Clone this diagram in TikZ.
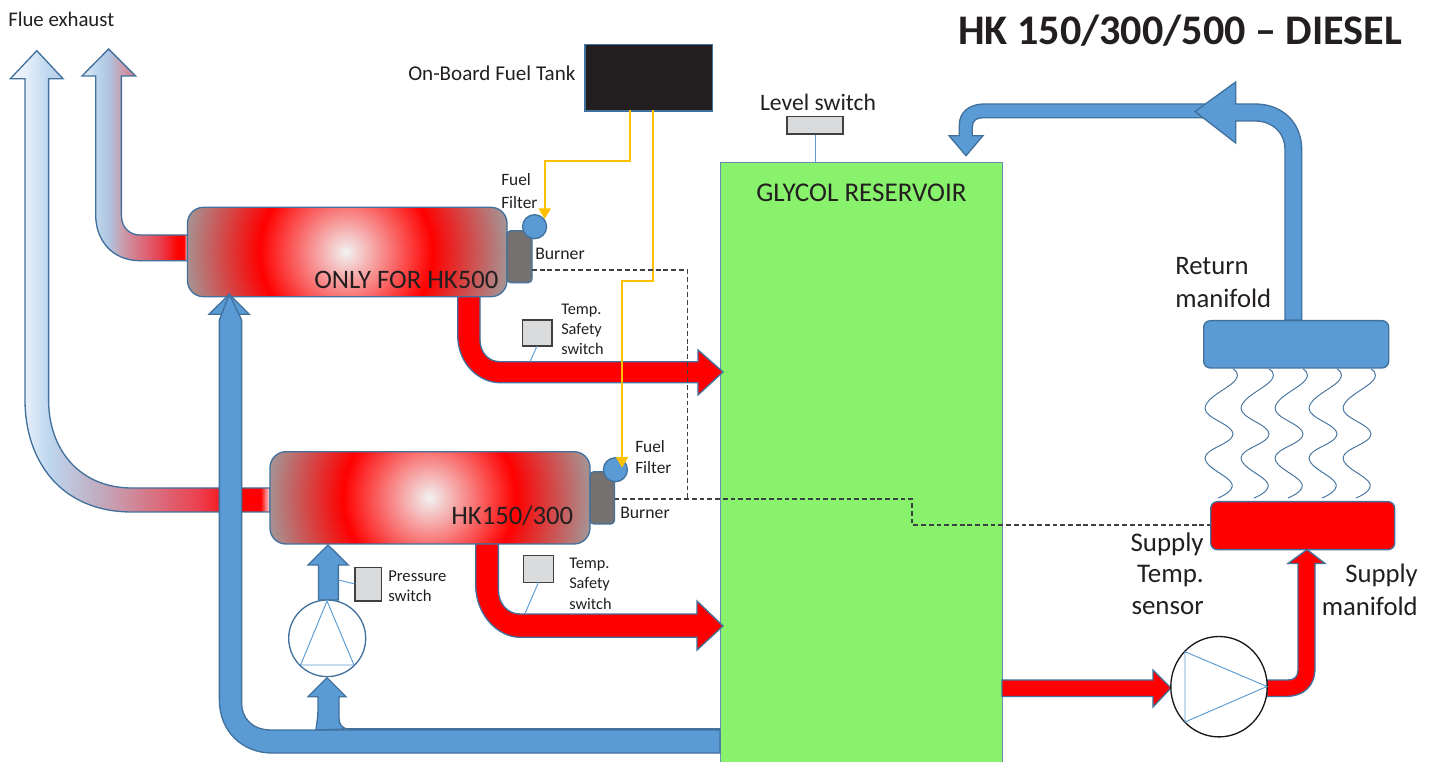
\documentclass[tikz,border=0pt]{standalone}
\usepackage{fontspec}
\setmainfont{Carlito}
\usetikzlibrary{arrows.meta}
\definecolor{pipeblue}{HTML}{5B9BD5}
\definecolor{edgeblue}{HTML}{41719C}
\definecolor{burnergrey}{HTML}{767171}
\definecolor{tankblack}{HTML}{231F20}
\definecolor{fuelyellow}{HTML}{FFC000}
\definecolor{glycol}{HTML}{88F26C}
\definecolor{switchgrey}{HTML}{DADBDC}
\definecolor{inkdark}{HTML}{231F20}
\definecolor{boilergrey}{HTML}{A89090}
\definecolor{centrewhite}{HTML}{F2F2F2}
\pgfdeclareradialshading{boilershade}{\pgfpoint{0bp}{0bp}}{%
  color(0bp)=(centrewhite);
  color(10.8bp)=(red);
  color(20bp)=(boilergrey);
  color(50bp)=(boilergrey)}
\definecolor{fa}{HTML}{F4F8FD}
\definecolor{fb}{HTML}{E6EFF9}
\definecolor{fc}{HTML}{BED7EF}
\definecolor{fd}{HTML}{C0B0C4}
\definecolor{fe}{HTML}{D28090}
\definecolor{ff}{HTML}{EB4050}
\pgfdeclarehorizontalshading{flueA}{100bp}{%
  color(0bp)=(fa);
  color(25bp)=(fa);
  color(27.9bp)=(fb);
  color(32.3bp)=(fc);
  color(41.2bp)=(fd);
  color(50bp)=(fe);
  color(61.2bp)=(ff);
  color(68.5bp)=(red);
  color(73.2bp)=(red);
  color(75.2bp)=(white);
  color(100bp)=(white)}
\definecolor{ga}{HTML}{E4EEF9}
\definecolor{gb}{HTML}{BDD7EE}
\definecolor{gc}{HTML}{B0C4E0}
\definecolor{gd}{HTML}{C8A0B0}
\definecolor{ge}{HTML}{DA7080}
\definecolor{gf}{HTML}{E84050}
\pgfdeclarehorizontalshading{flueB}{100bp}{%
  color(0bp)=(ga);
  color(25bp)=(ga);
  color(31.5bp)=(gb);
  color(37.8bp)=(gc);
  color(43.5bp)=(gd);
  color(52.5bp)=(ge);
  color(62bp)=(gf);
  color(70.5bp)=(red);
  color(73.3bp)=(red);
  color(75bp)=(white);
  color(100bp)=(white)}
\tikzset{
  txt/.style={inner sep=0pt,text=inkdark,font=\fontsize{#1}{#1}\selectfont,align=left},
  pipe/.style={draw=edgeblue,line width=1pt,fill=pipeblue},
  hot/.style={draw=edgeblue,line width=1pt,fill=red},
  flue/.style={draw=edgeblue,line width=1pt},
  boileredge/.style={draw=edgeblue,line width=1pt,rounded corners=12},
  sw/.style={draw=black!75,line width=1pt,fill=switchgrey},
  thin/.style={draw=pipeblue,line width=.7pt},
  fuel/.style={draw=fuelyellow,line width=1.6pt},
  fuelarrow/.style={fuel,-{Triangle[length=8pt,width=9pt,fill=fuelyellow]}},
  dashedwire/.style={draw=black!75,line width=1pt,dash pattern=on 3.6pt off 2.2pt},
  wave/.style={draw=edgeblue,line width=.7pt},
}
\begin{document}
\begin{tikzpicture}[x=0.75pt,y=-0.75pt]
\useasboundingbox (0,0) rectangle (1435,762);
\fill[white] (0,0) rectangle (1435,762);
% flue outlets
\path[shading=flueA,flue,shade] (36.8,50.7) -- (63,78.7) -- (48.6,78.7) -- (48.6,400)
  .. controls (48.6,450) and (80,488) .. (132,488) -- (270,488) -- (270,512) -- (132,512)
  .. controls (60,512) and (25,460) .. (25,400) -- (25,78.7) -- (10.4,78.7) -- cycle;
\path[shading=flueB,flue,shade] (108.6,49) -- (135.7,76) -- (121.4,76) -- (121.4,215)
  .. controls (121.4,228) and (130,235) .. (140,235) -- (187.5,235) -- (187.5,260.7) -- (140,260.7)
  .. controls (112,260.7) and (95.7,240) .. (95.7,215) -- (95.7,76) -- (82,76) -- cycle;
% reservoir
\node[draw=edgeblue!80,line width=1pt,fill=glycol,inner sep=0pt,anchor=north west,minimum width=211.5pt,minimum height=460pt] (reservoir) at (720,161.7) {};
% boilers
\begin{scope}
\clip[rounded corners=12] (187.5,207.3) rectangle (507,296.7);
\shade[shading=boilershade] (346,252) circle[radius=200];
\end{scope}
\draw[boileredge] (187.5,207.3) rectangle (507,296.7);
\begin{scope}
\clip[rounded corners=12] (270,451.7) rectangle (590,544);
\shade[shading=boilershade] (429.4,497.7) circle[radius=200];
\end{scope}
\draw[boileredge] (270,451.7) rectangle (590,544);
% burners
\draw[pipe,fill=burnergrey,rounded corners=3] (507,230.7) rectangle (532,282.7);
\draw[pipe,fill=burnergrey,rounded corners=3] (590,471.7) rectangle (614.5,524);
\node[pipe,circle,minimum size=18pt,inner sep=0pt] (filterA) at (534.6,226.7) {};
\node[pipe,circle,minimum size=18pt,inner sep=0pt] (filterB) at (615.4,469.7) {};
% hot arrows
\draw[hot] (457.7,296.7) -- (457.7,335) .. controls (457.7,365) and (480,382.7) .. (500,382.7) -- (698,382.7) -- (698,395) -- (723,372) -- (698,350) -- (698,361.7) -- (500,361.7) .. controls (488,361.7) and (480,352) .. (480,340) -- (480,296.7) -- cycle;
\draw[hot] (475.7,544) -- (475.7,585) .. controls (475.7,615) and (498,637.3) .. (520,637.3) -- (697,637.3) -- (697,650) -- (723,626) -- (697,601) -- (697,614) -- (520,614) .. controls (507,614) and (498.4,603) .. (498.4,590) -- (498.4,544) -- cycle;
\draw[hot] (1002,680) -- (1153,680) -- (1153,670) -- (1171,688) -- (1153,707) -- (1153,696.5) -- (1002,696.5) -- cycle;
\draw[hot] (1267,680) -- (1288,680) .. controls (1294,680) and (1298,677) .. (1298,670) -- (1298,563.5) -- (1288,563.5) -- (1307,549.6) -- (1325,563.5) -- (1315,563.5) -- (1315,668) .. controls (1315,686) and (1304,696.5) .. (1285,696.5) -- (1267,696.5) -- cycle;
% main return pipe
\draw[pipe] (209,314.3) -- (229.3,294.3) -- (249.3,314.3) -- cycle;
\draw[pipe] (720,730) -- (271,730) .. controls (252,730) and (241.6,718) .. (241.6,703) -- (241.6,320) -- (229.3,294.3) -- (219.4,320) -- (219.4,700) .. controls (219.4,732) and (243,753) .. (272,753) -- (720,753) -- cycle;
\draw[pipe] (316,730) .. controls (317,722) and (318,716) .. (318,710) -- (318,696.7) -- (308,696.7) -- (327,677.7) -- (346,696.7) -- (339,696.7) -- (339,718) .. controls (339,724) and (342,728) .. (347,729) -- cycle;
\draw[edgeblue,line width=1pt] (347,729) -- (720,729);
\draw[pipe] (318.5,600) -- (318.5,565) -- (308,565) -- (328,545) -- (348.3,565) -- (338.4,565) -- (338.4,600) -- cycle;
% pumps
\draw[pipe,fill=white] (327.2,638.3) ellipse[x radius=38.5,y radius=38.3];
\draw[thin,fill=none] (327,601) -- (300.6,665) -- (354,665) -- cycle;
\draw[line width=1pt,draw=black!90,fill=white] (1219,686.7) ellipse[x radius=48.2,y radius=50.2];
\draw[thin] (1185,651.7) -- (1185,722) -- (1267,686.5) -- cycle;
% manifolds
\node[pipe,rounded corners=5,minimum width=138.75pt,minimum height=35.5pt,inner sep=0pt,anchor=north west] (ret) at (1203,320) {};
\node[hot,rounded corners=5,minimum width=138pt,minimum height=36pt,inner sep=0pt,anchor=north west] (sup) at (1210,501) {};
% return flow
\draw[pipe] (1215,104) -- (985,104) .. controls (968,104) and (959.3,113) .. (959.3,125) -- (959.3,135.7) -- (949,135.7) -- (966,155.7) -- (983,135.7) -- (972.3,135.7) -- (972.3,127) .. controls (972.3,121) and (976,117.7) .. (983,117.7) -- (1215,117.7) -- cycle;
\draw[pipe] (1285,320) -- (1285,150) .. controls (1285,132) and (1272,121) .. (1255,121) -- (1235.7,121) -- (1235.7,143) -- (1195,111.5) -- (1235.7,82) -- (1235.7,104) -- (1255,104) .. controls (1282,104) and (1301.7,122) .. (1301.7,150) -- (1301.7,320) -- cycle;
% waves
\foreach \d in {0,36,70,104,138}{
  \draw[wave,xshift=\d*0.75pt] plot[smooth,tension=.7] coordinates {(1233,369) (1235.5,380) (1205,408) (1233,434) (1205,458) (1232,484) (1218,498)};
}
% level switch
\node[sw,minimum width=42pt,minimum height=13pt,inner sep=0pt] (lvl) at (815,125.5) {};
\draw[thin] (lvl.south) -- (815,161.7);
% tank
\node[draw=edgeblue,line width=1pt,fill=tankblack,minimum width=95.5pt,minimum height=50pt,inner sep=0pt,anchor=north west] (tank) at (584.3,43.7) {};
% fuel
\draw[fuelarrow] (630.3,110) -- (630.3,160.7) -- (544.7,160.7) -- (544.7,219);
\draw[fuelarrow] (652.7,110) -- (652.7,280.7) -- (622,280.7) -- (622,467.7);
% wires
\draw[dashedwire] (532,270) -- (687.5,270) -- (687.5,499);
\draw[dashedwire] (614.5,499) -- (912,499) -- (912,525) -- (1210,525);
% switches
\node[sw,minimum width=22pt,minimum height=19.5pt,inner sep=0pt] (tsA) at (537.3,333) {};
\draw[thin] (537,346) -- (530,361.7);
\node[sw,minimum width=22.4pt,minimum height=20pt,inner sep=0pt] (tsB) at (538.7,569) {};
\draw[thin] (538.5,582.3) -- (524.8,614);
\node[sw,minimum width=19.7pt,minimum height=25pt,inner sep=0pt] (ps) at (368.1,584.3) {};
\draw[thin] (355,584) -- (338.4,580);
% labels
\node[txt=15.6,anchor=west] (t1) at (8,19) {Flue exhaust};
\node[txt=15.8,anchor=west] (t2) at (408,73.5) {On-Board Fuel Tank};
\node[txt=31.6,font=\fontsize{31.6}{31.6}\selectfont\bfseries,anchor=west] (t3) at (958,31) {HK 150/300/500 – DIESEL};
\node[txt=17.7,anchor=center] (t4) at (818,102) {Level switch};
\node[txt=20.3,anchor=center] (t5) at (861.5,193) {GLYCOL RESERVOIR};
\node[txt=20,anchor=west] (t6) at (314,280) {ONLY FOR HK500};
\node[txt=20,anchor=west] (t7) at (451,516) {HK150/300};
\node[txt=13,anchor=west] (t8) at (501,180) {Fuel};
\node[txt=13,anchor=west] (t9) at (501,203) {Filter};
\node[txt=13.3,anchor=west] (t10) at (535,254) {Burner};
\node[txt=13,anchor=west] (t11) at (635,447) {Fuel};
\node[txt=13,anchor=west] (t12) at (635,468) {Filter};
\node[txt=13.3,anchor=west] (t13) at (620,513) {Burner};
\node[txt=12.2,anchor=west] (t14) at (561,311) {Temp.};
\node[txt=12.2,anchor=west] (t15) at (561,330) {Safety};
\node[txt=12.2,anchor=west] (t16) at (561,349) {switch};
\node[txt=12.2,anchor=west] (t17) at (569,565) {Temp.};
\node[txt=12.2,anchor=west] (t18) at (569,584) {Safety};
\node[txt=12.2,anchor=west] (t19) at (569,604) {switch};
\node[txt=12.5,anchor=west] (t20) at (388,576) {Pressure};
\node[txt=12.5,anchor=west] (t21) at (388,596) {switch};
\node[txt=20,anchor=west] (t22) at (1175,266) {Return};
\node[txt=20,anchor=west] (t23) at (1175,298) {manifold};
\node[txt=20.2,anchor=east] (t24) at (1204,544) {Supply};
\node[txt=20.2,anchor=east] (t25) at (1204,576) {Temp.};
\node[txt=20.2,anchor=east] (t26) at (1204,608) {sensor};
\node[txt=20,anchor=east] (t27) at (1418,575) {Supply};
\node[txt=20,anchor=east] (t28) at (1418,606) {manifold};
\end{tikzpicture}
\end{document}
